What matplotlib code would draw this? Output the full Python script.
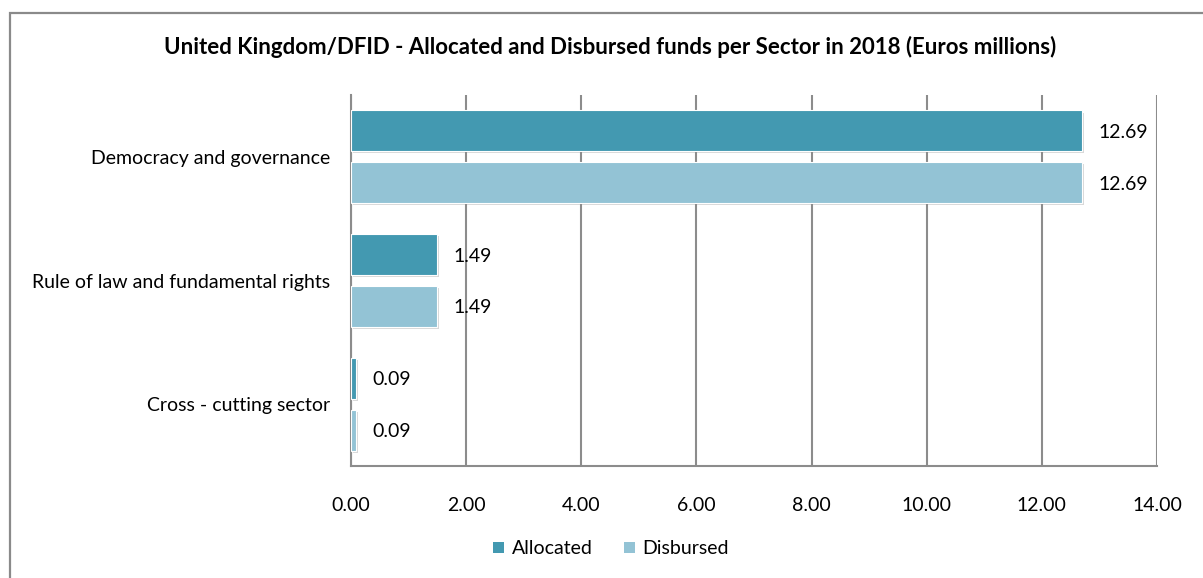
import matplotlib
matplotlib.use("Agg")
import matplotlib.pyplot as plt
import matplotlib.patheffects as pe
from matplotlib.patches import Rectangle, Patch
import numpy as np

plt.rcParams['font.family'] = ['Lato', 'DejaVu Sans']

# data
sectors = ['Democracy and governance', 'Rule of law and fundamental rights', 'Cross - cutting sector']
allocated = [12.69, 1.49, 0.09]
disbursed = [12.69, 1.49, 0.09]
xticks = [0, 2, 4, 6, 8, 10, 12, 14]

col_alloc = '#4399b1'
col_disb = '#93c3d5'
grid_col = '#8c8c8c'

fig = plt.figure(figsize=(12.03, 5.78), dpi=100)
ax = fig.add_axes([351 / 1203, 1 - 466 / 578, (1157 - 351) / 1203, (466 - 95) / 578])

# outer chart border
fig.patches.append(Rectangle((9.5 / 1203, -0.05), 1.1, 1.05 - 12.5 / 578,
                             transform=fig.transFigure, fill=False,
                             edgecolor='#8a8a8a', linewidth=1.6, zorder=0))

y = np.arange(len(sectors))
h = 0.33
off = 0.21
shadow = [pe.SimplePatchShadow(offset=(1.5, -1.5), shadow_rgbFace='#808080', alpha=0.3), pe.Normal()]

b1 = ax.barh(y - off, allocated, height=h, color=col_alloc, edgecolor='white',
             linewidth=0.8, zorder=3)
b2 = ax.barh(y + off, disbursed, height=h, color=col_disb, edgecolor='white',
             linewidth=0.8, zorder=3)
for b in list(b1) + list(b2):
    b.set_path_effects(shadow)

for bars, vals in ((b1, allocated), (b2, disbursed)):
    for bar, v in zip(bars, vals):
        ax.annotate(f'{v:.2f}', (v, bar.get_y() + bar.get_height() / 2),
                    xytext=(12, 0), textcoords='offset points',
                    ha='left', va='center_baseline', fontsize=14, color='black', zorder=4)

ax.set_xlim(0, 14)
ax.set_ylim(2.5, -0.5)
ax.set_xticks(xticks)
ax.set_xticklabels([f'{t:.2f}' for t in xticks], fontsize=14)
ax.set_yticks(y)
ax.set_yticklabels(sectors, fontsize=14)
ax.tick_params(axis='y', length=0, pad=15)
ax.tick_params(axis='x', length=0, pad=22)

ax.xaxis.grid(True, color=grid_col, linewidth=1.5, zorder=0)
ax.set_axisbelow(True)
for s in ('top', 'right'):
    ax.spines[s].set_visible(False)
ax.spines['left'].set_color(grid_col)
ax.spines['left'].set_linewidth(1.5)
ax.spines['bottom'].set_color(grid_col)
ax.spines['bottom'].set_linewidth(1.5)

fig.text(0.507, 1 - 47 / 578, 'United Kingdom/DFID - Allocated and Disbursed funds per Sector in 2018 (Euros millions)',
         ha='center', va='center', fontsize=16, fontweight='bold')

handles = [Patch(facecolor=col_alloc), Patch(facecolor=col_disb)]
fig.legend(handles=handles, labels=['Allocated', 'Disbursed'], loc='center',
           bbox_to_anchor=(0.508, 1 - 549 / 578), ncol=2, frameon=False,
           fontsize=14, handlelength=0.55, handleheight=0.55, columnspacing=1.6,
           handletextpad=0.4)

plt.savefig('out.png', dpi=100)
